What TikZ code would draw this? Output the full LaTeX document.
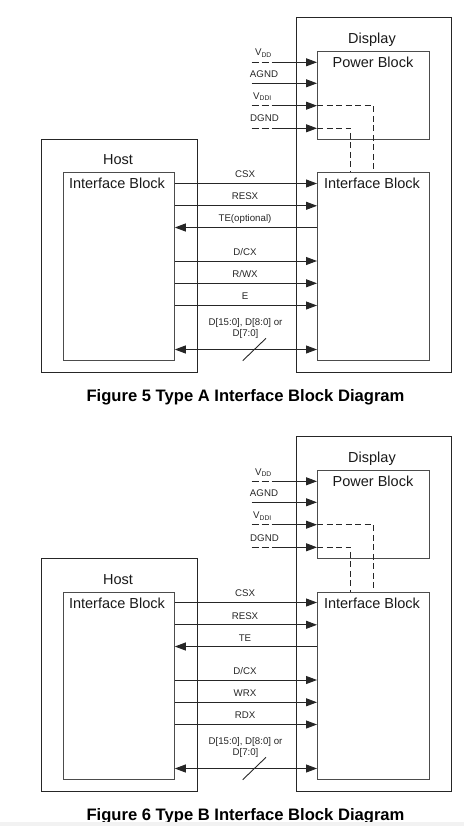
\documentclass[tikz,border=0pt]{standalone}
\usepackage{fontspec}
\setmainfont{Liberation Sans}
\usetikzlibrary{arrows.meta}

\begin{document}
\begin{tikzpicture}[x=1pt, y=-1pt,
    outerbox/.style={draw=black!85, line width=1.3pt, anchor=north west, inner sep=0pt},
    innerbox/.style={draw=black!70, line width=0.8pt, anchor=north west, inner sep=0pt},
    blocktitle/.style={anchor=base, font=\fontsize{14.5pt}{17pt}\selectfont, text=black!90},
    siglabel/.style={anchor=base, font=\fontsize{9.7pt}{11.7pt}\selectfont, text=black!85, align=center},
    sig/.style={draw=black!85, line width=0.9pt, -{Triangle[length=11pt,width=8pt]}},
    bus/.style={sig, {Triangle[length=11pt,width=8pt]}-{Triangle[length=11pt,width=8pt]}},
    pwrin/.style={sig, dash pattern=on 7pt off 3pt on 7pt off 3pt on 80pt off 0pt},
    innerdash/.style={draw=black!85, line width=0.9pt, dash pattern=on 6pt off 3.5pt},
    caption/.style={anchor=base, font=\fontsize{16.6pt}{19pt}\selectfont\bfseries}
]
    \useasboundingbox (0,0) rectangle (464,826);

    % Type A
    \begin{scope}
        \node[outerbox, minimum width=155pt, minimum height=354.5pt] (dispA) at (296,17) {};
        \node[innerbox, minimum width=112pt, minimum height=88pt] (pwrA) at (317,51) {};
        \node[innerbox, minimum width=112pt, minimum height=187.5pt] (difA) at (317,172.5) {};
        \node[outerbox, minimum width=155.5pt, minimum height=232.5pt] (hostA) at (41,139) {};
        \node[innerbox, minimum width=111pt, minimum height=187.5pt] (hifA) at (63,172.5) {};

        \node[blocktitle] (dispTA) at (372,43.5) {Display};
        \node[blocktitle] (pwrTA) at (373,67.3) {Power Block};
        \node[blocktitle] (difTA) at (372,189) {Interface Block};
        \node[blocktitle] (hostTA) at (118,165) {Host};
        \node[blocktitle] (hifTA) at (117,189) {Interface Block};

        \coordinate (vddA) at (251.5,62.3);
        \coordinate (agndA) at (251.5,83.3);
        \coordinate (vddiA) at (251.5,105.7);
        \coordinate (dgndA) at (251.5,128.3);
        \draw[pwrin] (vddA) -- (pwrA.west |- vddA);
        \draw[sig] (agndA) -- (pwrA.west |- agndA);
        \draw[pwrin] (vddiA) -- (pwrA.west |- vddiA);
        \draw[pwrin] (dgndA) -- (pwrA.west |- dgndA);
        \node[siglabel] (vddlA) at (263.5,56) {V\textsubscript{DD}};
        \node[siglabel] (agndlA) at (264,77.5) {AGND};
        \node[siglabel] (vddilA) at (262.5,99.5) {V\textsubscript{DDI}};
        \node[siglabel] (dgndlA) at (264.5,122) {DGND};
        \draw[innerdash] (pwrA.west |- vddiA) -| (difA.north);
        \draw[innerdash] (pwrA.west |- dgndA) -| ([xshift=-23pt]difA.north);

        \draw[sig] (hifA.east |- 0,183.5) -- (difA.west |- 0,183.5);
        \draw[sig] (hifA.east |- 0,205.8) -- (difA.west |- 0,205.8);
        \draw[sig] (difA.west |- 0,227.5) -- (hifA.east |- 0,227.5);
        \draw[sig] (hifA.east |- 0,261) -- (difA.west |- 0,261);
        \draw[sig] (hifA.east |- 0,283.3) -- (difA.west |- 0,283.3);
        \draw[sig] (hifA.east |- 0,305.5) -- (difA.west |- 0,305.5);
        \draw[bus] (hifA.east |- 0,349.5) -- (difA.west |- 0,349.5);
        \draw[draw=black!85, line width=0.9pt] (242.7,360.7) -- (266,338.3);
        \node[siglabel] (csxA) at (245,177.5) {CSX};
        \node[siglabel] (resxA) at (245,200) {RESX};
        \node[siglabel] (teA) at (245,222) {TE(optional)};
        \node[siglabel] (dcxA) at (245,255) {D/CX};
        \node[siglabel] (rwxA) at (245,277.5) {R/WX};
        \node[siglabel] (eA) at (245,299.5) {E};
        \node[siglabel] (dataA) at (245.5,336.7) {D[15:0], D[8:0] or\\D[7:0]};

        \node[caption] (capA) at (245.5,401) {Figure 5 Type A Interface Block Diagram};
    \end{scope}

    % Type B
    \begin{scope}[yshift=-419pt]
        \node[outerbox, minimum width=155pt, minimum height=354.5pt] (dispB) at (296,17) {};
        \node[innerbox, minimum width=112pt, minimum height=88pt] (pwrB) at (317,51) {};
        \node[innerbox, minimum width=112pt, minimum height=187.5pt] (difB) at (317,172.5) {};
        \node[outerbox, minimum width=155.5pt, minimum height=232.5pt] (hostB) at (41,139) {};
        \node[innerbox, minimum width=111pt, minimum height=187.5pt] (hifB) at (63,172.5) {};

        \node[blocktitle] (dispTB) at (372,43.5) {Display};
        \node[blocktitle] (pwrTB) at (373,67.3) {Power Block};
        \node[blocktitle] (difTB) at (372,189) {Interface Block};
        \node[blocktitle] (hostTB) at (118,165) {Host};
        \node[blocktitle] (hifTB) at (117,189) {Interface Block};

        \coordinate (vddB) at (251.5,62.3);
        \coordinate (agndB) at (251.5,83.3);
        \coordinate (vddiB) at (251.5,105.7);
        \coordinate (dgndB) at (251.5,128.3);
        \draw[pwrin] (vddB) -- (pwrB.west |- vddB);
        \draw[sig] (agndB) -- (pwrB.west |- agndB);
        \draw[pwrin] (vddiB) -- (pwrB.west |- vddiB);
        \draw[pwrin] (dgndB) -- (pwrB.west |- dgndB);
        \node[siglabel] (vddlB) at (263.5,56) {V\textsubscript{DD}};
        \node[siglabel] (agndlB) at (264,77.5) {AGND};
        \node[siglabel] (vddilB) at (262.5,99.5) {V\textsubscript{DDI}};
        \node[siglabel] (dgndlB) at (264.5,122) {DGND};
        \draw[innerdash] (pwrB.west |- vddiB) -| (difB.north);
        \draw[innerdash] (pwrB.west |- dgndB) -| ([xshift=-23pt]difB.north);

        \draw[sig] (hifB.east |- 0,183.5) -- (difB.west |- 0,183.5);
        \draw[sig] (hifB.east |- 0,205.8) -- (difB.west |- 0,205.8);
        \draw[sig] (difB.west |- 0,227.5) -- (hifB.east |- 0,227.5);
        \draw[sig] (hifB.east |- 0,261) -- (difB.west |- 0,261);
        \draw[sig] (hifB.east |- 0,283.3) -- (difB.west |- 0,283.3);
        \draw[sig] (hifB.east |- 0,305.5) -- (difB.west |- 0,305.5);
        \draw[bus] (hifB.east |- 0,349.5) -- (difB.west |- 0,349.5);
        \draw[draw=black!85, line width=0.9pt] (242.7,360.7) -- (266,338.3);
        \node[siglabel] (csxB) at (245,177.5) {CSX};
        \node[siglabel] (resxB) at (245,200) {RESX};
        \node[siglabel] (teB) at (245,222) {TE};
        \node[siglabel] (dcxB) at (245,255) {D/CX};
        \node[siglabel] (wrxB) at (245,277.5) {WRX};
        \node[siglabel] (rdxB) at (245,299.5) {RDX};
        \node[siglabel] (dataB) at (245.5,336.7) {D[15:0], D[8:0] or\\D[7:0]};

        \node[caption] (capB) at (245.5,401) {Figure 6 Type B Interface Block Diagram};
    \end{scope}

    \fill[black!5] (0,822) rectangle (464,826);
\end{tikzpicture}
\end{document}
